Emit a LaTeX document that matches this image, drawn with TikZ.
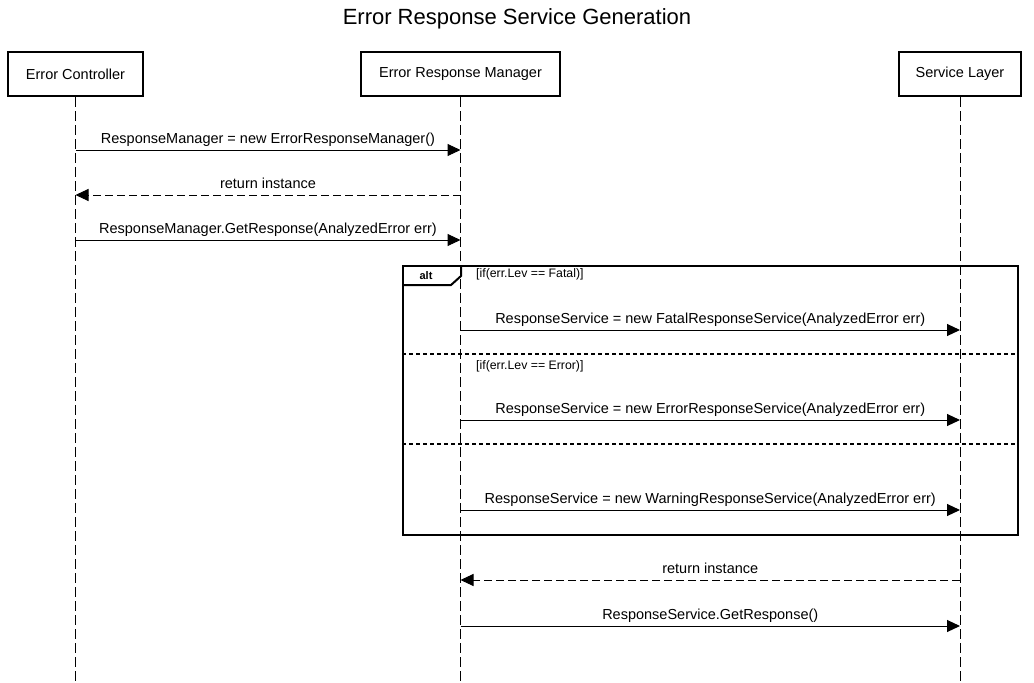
\documentclass[tikz,border=0pt]{standalone}
\usepackage{fontspec}
\setmainfont{Liberation Sans}
\usetikzlibrary{arrows.meta}
\begin{document}
\begin{tikzpicture}[x=1pt,y=-1pt,
  actor/.style={draw, line width=2pt, minimum height=44pt, inner sep=0pt,
    font=\fontsize{14.5}{17}\selectfont},
  life/.style={line width=1pt, dash pattern=on 10pt off 4pt},
  msg/.style={line width=1pt, -{Triangle[length=13pt,width=12pt]}},
  ret/.style={msg, dash pattern=on 8pt off 4pt},
  lbl/.style={font=\fontsize{14.5}{17}\selectfont, inner sep=0pt, anchor=base},
  guard/.style={font=\fontsize{12.3}{14}\selectfont, inner sep=0pt, anchor=west},
  frameline/.style={line width=2pt},
  divider/.style={line width=2pt, dash pattern=on 4pt off 3pt}
]
\useasboundingbox (0,0) rectangle (1034,683);
\node[font=\fontsize{22}{26}\selectfont, inner sep=0pt] (title) at (517,18.5) {Error Response Service Generation};

\node[actor, minimum width=135pt] (ec) at (75.5,74) {Error Controller};
\node[actor, minimum width=199pt] (erm) at (460.5,74) {Error Response Manager};
\node[actor, minimum width=122pt] (sl) at (960,74) {Service Layer};

\coordinate (ecEnd) at (ec |- 0,683);
\coordinate (ermEnd) at (erm |- 0,683);
\coordinate (slEnd) at (sl |- 0,683);
\draw[life] (ec.south) -- (ecEnd);
\draw[life] (erm.south) -- (ermEnd);
\draw[life] (sl.south) -- (slEnd);

% messages
\draw[msg] (ec |- 0,150) -- (erm |- 0,150) node[lbl, midway, yshift=6.5pt] (l1) {ResponseManager = new ErrorResponseManager()};
\draw[ret] (erm |- 0,195) -- (ec |- 0,195) node[lbl, midway, yshift=6.5pt] (l2) {return instance};
\draw[msg] (ec |- 0,240) -- (erm |- 0,240) node[lbl, midway, yshift=6.5pt] (l3) {ResponseManager.GetResponse(AnalyzedError err)};

% alt frame
\node[draw, frameline, minimum width=615pt, minimum height=269pt, inner sep=0pt] (frame) at (710.5,400.5) {};
\coordinate (tabA) at (403,285);
\coordinate (tabB) at (451,285);
\coordinate (tabC) at (461,276);
\coordinate (tabD) at (461,266);
\draw[frameline, line join=miter] (tabA) -- (tabB) -- (tabC) -- (tabD);
\node[font=\bfseries\fontsize{11}{13}\selectfont, inner sep=0pt] (alt) at (426,275.5) {alt};
\node[guard] (g1) at (476,274.5) {[if(err.Lev == Fatal)]};
\coordinate (d1a) at (frame.west |- 0,354);
\coordinate (d1b) at (frame.east |- 0,354);
\draw[divider] (d1a) -- (d1b);
\node[guard] (g2) at (476,366) {[if(err.Lev == Error)]};
\coordinate (d2a) at (frame.west |- 0,444);
\coordinate (d2b) at (frame.east |- 0,444);
\draw[divider] (d2a) -- (d2b);

\draw[msg] (erm |- 0,330) -- (sl |- 0,330) node[lbl, midway, yshift=6.5pt] (l4) {ResponseService = new FatalResponseService(AnalyzedError err)};
\draw[msg] (erm |- 0,420) -- (sl |- 0,420) node[lbl, midway, yshift=6.5pt] (l5) {ResponseService = new ErrorResponseService(AnalyzedError err)};
\draw[msg] (erm |- 0,510) -- (sl |- 0,510) node[lbl, midway, yshift=6.5pt] (l6) {ResponseService = new WarningResponseService(AnalyzedError err)};

\draw[ret] (sl |- 0,580) -- (erm |- 0,580) node[lbl, midway, yshift=6.5pt] (l7) {return instance};
\draw[msg] (erm |- 0,626) -- (sl |- 0,626) node[lbl, midway, yshift=6.5pt] (l8) {ResponseService.GetResponse()};
\end{tikzpicture}
\end{document}
